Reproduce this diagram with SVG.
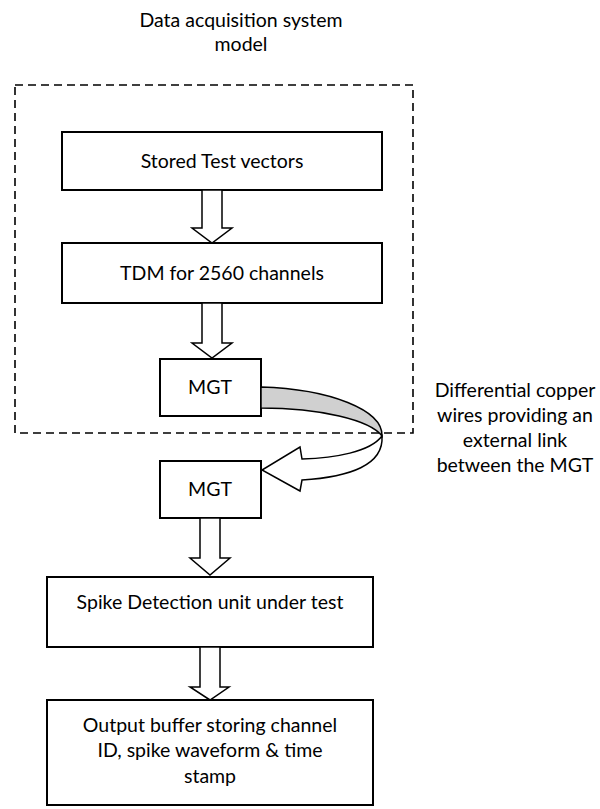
<svg xmlns="http://www.w3.org/2000/svg" width="600" height="809" viewBox="0 0 600 809">
  <style>
    .box { fill: #ffffff; stroke: #000000; stroke-width: 2; }
    .blk { fill: #ffffff; stroke: #000000; stroke-width: 1.5; stroke-linejoin: miter; }
    .lbl { font-family: Lato, "Liberation Sans", sans-serif; font-size: 19.5px; fill: #000000; text-anchor: middle; }
    .frame { fill: none; stroke: #000000; stroke-width: 1.6; stroke-dasharray: 8 5; }
  </style>

  <!-- title -->
  <g id="title">
    <text class="lbl" x="241" y="27">Data acquisition system</text>
    <text class="lbl" x="241" y="51">model</text>
  </g>

  <!-- nodes -->
  <g id="stored-vectors">
    <rect class="box" x="62" y="132" width="320" height="58"/>
    <text class="lbl" x="222" y="168">Stored Test vectors</text>
  </g>
  <g id="tdm">
    <rect class="box" x="62" y="243" width="320" height="60"/>
    <text class="lbl" x="222" y="280">TDM for 2560 channels</text>
  </g>
  <g id="mgt-tx">
    <rect class="box" x="160" y="359" width="101" height="57"/>
    <text class="lbl" x="210" y="394">MGT</text>
  </g>
  <g id="mgt-rx">
    <rect class="box" x="160" y="461" width="101" height="57"/>
    <text class="lbl" x="210" y="496">MGT</text>
  </g>
  <g id="spike-detection">
    <rect class="box" x="47" y="577" width="326" height="70"/>
    <text class="lbl" x="210" y="609">Spike Detection unit under test</text>
  </g>
  <g id="output-buffer">
    <rect class="box" x="47" y="700" width="326" height="105"/>
    <text class="lbl" x="210" y="732">Output buffer storing channel</text>
    <text class="lbl" x="210" y="757">ID, spike waveform &amp; time</text>
    <text class="lbl" x="210" y="783">stamp</text>
  </g>
  <g id="link-note">
    <text class="lbl" x="515" y="397">Differential copper</text>
    <text class="lbl" x="515" y="422">wires providing an</text>
    <text class="lbl" x="515" y="447">external link</text>
    <text class="lbl" x="515" y="472">between the MGT</text>
  </g>

  <!-- connectors -->
  <g id="connectors">
    <polygon class="blk" points="202,190 222,190 222,228 232,228 212,243 192,228 202,228"/>
    <polygon class="blk" points="202,303 222,303 222,343 232,343 212,358 192,343 202,343"/>
    <polygon class="blk" points="200,518 220,518 220,558 230,558 210,575 190,558 200,558"/>
    <polygon class="blk" points="200,647 220,647 220,687 229,687 210,700 190,687 200,687"/>
    <!-- curved link: shaded back band and white front with head -->
    <path class="blk" style="fill:#d0d0d0" d="M261,387 C330,389 383,410 382,436 C370,420 320,408 261,408 Z"/>
    <path class="blk" d="M382,436 C370,452 335,458 302,459 L300,447 L262,470 L300,491 L302,480 C350,477 384,465 382,436 Z"/>
  </g>

  <!-- boundary of the acquisition model -->
  <rect id="model-frame" class="frame" x="15" y="85" width="398" height="348"/>
</svg>
